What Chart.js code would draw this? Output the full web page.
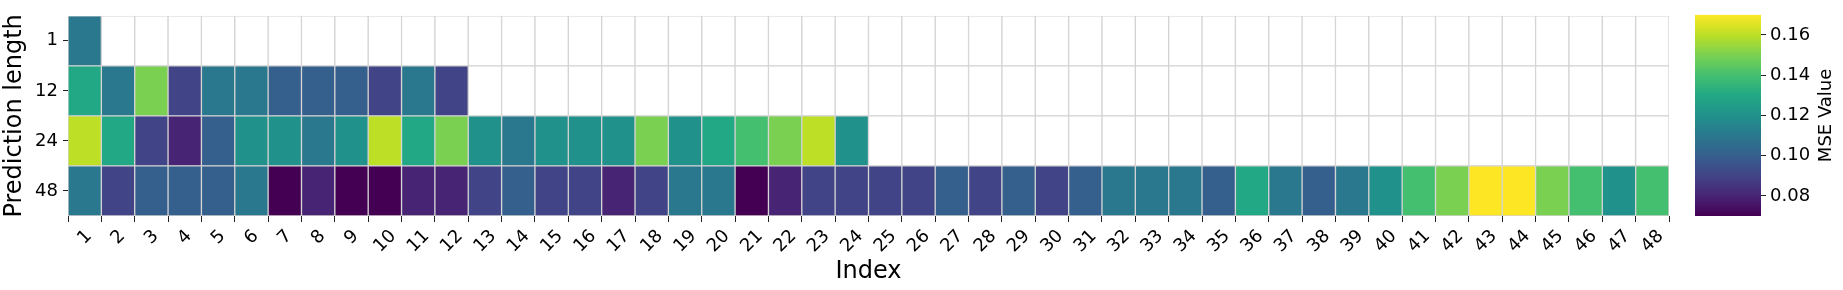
<!DOCTYPE html>
<html>
<head>
<meta charset="utf-8">
<script src="https://cdn.jsdelivr.net/npm/chart.js"></script>
<style>
  body { margin: 0; background: #fff; }
  #heatmap { position: absolute; left: 0; top: 0; }
  #colorbar { position: absolute; left: 1680px; top: 0; }
</style>
</head>
<body>
<canvas id="heatmap" width="1680" height="290"></canvas>
<canvas id="colorbar" width="163" height="290"></canvas>
<script>
// categorias y valores (MSE por indice, una fila por longitud de prediccion)
const indices = ['1','2','3','4','5','6','7','8','9','10','11','12','13','14','15','16',
  '17','18','19','20','21','22','23','24','25','26','27','28','29','30','31','32',
  '33','34','35','36','37','38','39','40','41','42','43','44','45','46','47','48'];
const predLengths = ['1', '12', '24', '48'];

const msePred1 = [0.110];
const msePred12 = [0.130, 0.110, 0.150, 0.090, 0.110, 0.110, 0.100, 0.100, 0.100, 0.090, 0.110, 0.090];
const msePred24 = [0.160, 0.130, 0.090, 0.080, 0.100, 0.120, 0.120, 0.110, 0.120, 0.160, 0.130, 0.150,
  0.120, 0.110, 0.120, 0.120, 0.120, 0.150, 0.120, 0.130, 0.140, 0.150, 0.160, 0.120];
const msePred48 = [0.110, 0.090, 0.100, 0.100, 0.100, 0.110, 0.070, 0.080, 0.070, 0.070, 0.080, 0.080,
  0.090, 0.100, 0.090, 0.090, 0.080, 0.090, 0.110, 0.110, 0.070, 0.080, 0.090, 0.090,
  0.090, 0.090, 0.100, 0.090, 0.100, 0.090, 0.100, 0.110, 0.110, 0.110, 0.100, 0.130,
  0.110, 0.100, 0.110, 0.120, 0.140, 0.150, 0.170, 0.170, 0.150, 0.140, 0.120, 0.140];

const cbTicks = [0.08, 0.10, 0.12, 0.14, 0.16];

const rows = [msePred1, msePred12, msePred24, msePred48];
const allVals = rows.flat();
const vmin = Math.min(...allVals);
const vmax = Math.max(...allVals);

// paleta viridis
const viridisStops = [
  [68, 1, 84], [72, 36, 117], [65, 68, 135], [53, 95, 141], [42, 120, 142],
  [33, 145, 140], [34, 168, 132], [68, 191, 112], [122, 209, 81], [189, 223, 38], [253, 231, 37]
];
function viridis(t) {
  t = Math.min(1, Math.max(0, t));
  const p = t * 10, i = Math.min(9, Math.floor(p)), f = p - i;
  const a = viridisStops[i], b = viridisStops[i + 1];
  return 'rgb(' + a.map((c, k) => Math.round(c + (b[k] - c) * f)).join(',') + ')';
}

const FONT = 'DejaVu Sans';

// etiquetas del eje x giradas 45 grados y centradas bajo cada tick (como matplotlib)
const xLabels45 = {
  id: 'xLabels45',
  afterDraw(chart) {
    const sx = chart.scales.x;
    const c = chart.ctx;
    c.save();
    c.font = '18px "' + FONT + '"';
    c.fillStyle = '#000';
    c.textAlign = 'center';
    c.textBaseline = 'alphabetic';
    indices.forEach((lab, i) => {
      const w = c.measureText(lab).width;
      const cx = sx.getPixelForValue(i) - 1;
      const cy = sx.top + 8.5 + (w + 21) * 0.354;
      c.save();
      c.translate(cx, cy);
      c.rotate(-Math.PI / 4);
      c.fillText(lab, 0, 6.5);
      c.restore();
    });
    c.restore();
  }
};

// titulo de la barra de color, leido de abajo hacia arriba
const cbTitle = {
  id: 'cbTitle',
  afterDraw(chart) {
    const ca = chart.chartArea;
    const c = chart.ctx;
    c.save();
    c.font = '18px "' + FONT + '"';
    c.fillStyle = '#000';
    c.textAlign = 'center';
    c.textBaseline = 'middle';
    c.translate(146, (ca.top + ca.bottom) / 2);
    c.rotate(-Math.PI / 2);
    c.fillText('MSE Value', 0, 0);
    c.restore();
  }
};

// filas de abajo hacia arriba: 48, 24, 12, 1
const datasets = [3, 2, 1, 0].map(r => ({
  label: predLengths[r],
  data: indices.map(() => 1),
  backgroundColor: indices.map((_, i) =>
    i < rows[r].length ? viridis((rows[r][i] - vmin) / (vmax - vmin)) : '#ffffff'),
  borderColor: '#d3d3d3',
  borderWidth: 1,
  borderSkipped: false,
  barPercentage: 1,
  categoryPercentage: 1
}));

new Chart(document.getElementById('heatmap'), {
  type: 'bar',
  data: { labels: indices, datasets: datasets },
  plugins: [xLabels45],
  options: {
    responsive: false,
    animation: false,
    layout: { padding: { top: 6, right: 11, left: 0, bottom: 0 } },
    plugins: { legend: { display: false }, tooltip: { enabled: false } },
    scales: {
      x: {
        stacked: true,
        grid: { drawOnChartArea: false, tickLength: 6, tickColor: '#222' },
        border: { display: false },
        ticks: { display: false, autoSkip: false },
        title: { display: true, text: 'Index', color: '#000',
          font: { family: FONT, size: 24 }, padding: { top: 0, bottom: 4 } },
        afterFit: s => { s.height = 74; }
      },
      y: {
        stacked: true,
        min: 0, max: 4,
        afterBuildTicks: s => { s.ticks = [0.5, 1.5, 2.5, 3.5].map(v => ({ value: v })); },
        grid: { drawOnChartArea: false, tickLength: 5, tickColor: '#222' },
        border: { display: false },
        ticks: {
          color: '#000', font: { family: FONT, size: 18 }, padding: 5,
          callback: v => predLengths[3 - Math.floor(v)]
        },
        title: { display: true, text: 'Prediction length', color: '#000',
          font: { family: FONT, size: 24 }, padding: 0 },
        afterFit: s => { s.width = 68; }
      }
    }
  }
});

// barra de color
new Chart(document.getElementById('colorbar'), {
  type: 'bar',
  data: {
    labels: ['MSE'],
    datasets: [{
      data: [[vmin, vmax]],
      backgroundColor: ctx => {
        const ca = ctx.chart.chartArea;
        if (!ca) return null;
        const g = ctx.chart.ctx.createLinearGradient(0, ca.bottom, 0, ca.top);
        viridisStops.forEach((c, i) => g.addColorStop(i / 10, 'rgb(' + c.join(',') + ')'));
        return g;
      },
      borderWidth: 0,
      barPercentage: 1,
      categoryPercentage: 1
    }]
  },
  plugins: [cbTitle],
  options: {
    responsive: false,
    animation: false,
    layout: { padding: { top: 6, left: 15, right: 0, bottom: 74 } },
    plugins: { legend: { display: false }, tooltip: { enabled: false } },
    scales: {
      x: { display: false },
      y: {
        position: 'right',
        min: vmin, max: vmax,
        afterBuildTicks: s => { s.ticks = cbTicks.map(v => ({ value: v })); },
        grid: { drawOnChartArea: false, tickLength: 5, tickColor: '#222' },
        border: { display: false },
        ticks: { color: '#000', font: { family: FONT, size: 18 }, padding: 4,
          callback: v => v.toFixed(2) },
        title: { display: false },
        afterFit: s => { s.width = 82; }
      }
    }
  }
});
</script>
</body>
</html>
